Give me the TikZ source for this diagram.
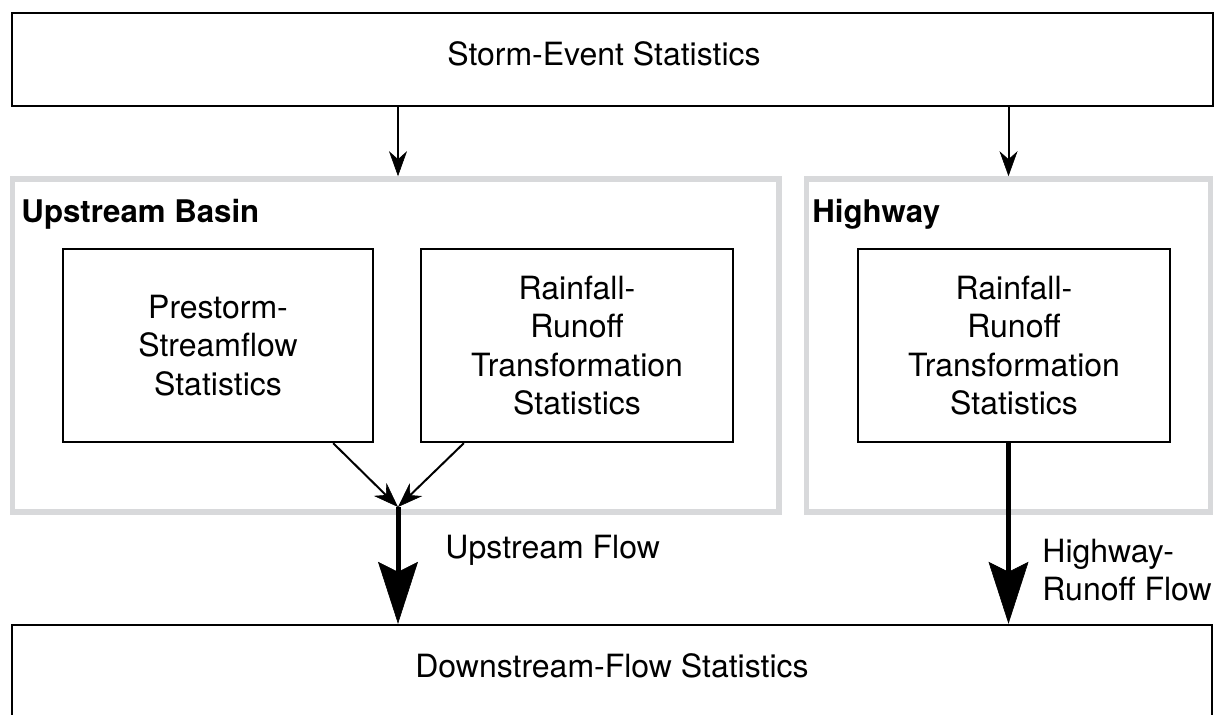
\documentclass[tikz,border=0pt]{standalone}
\usepackage{fontspec}
\setmainfont{TeX Gyre Heros}
\usetikzlibrary{arrows.meta,calc}
\definecolor{framegrey}{RGB}{216,217,219}
\begin{document}
\begin{tikzpicture}[x=0.5pt,y=-0.5pt,
  every node/.style={font=\fontsize{16}{19.1}\selectfont},
  box/.style={draw=black,line width=1.2pt,inner sep=0pt,align=center},
  group/.style={draw=framegrey,line width=2.8pt,inner sep=0pt},
  thinarrow/.style={line width=1pt,-{Stealth[length=12.5pt,width=9pt,inset=4pt,line width=0.3pt]}},
  thickarrow/.style={line width=2.5pt,-{Stealth[length=31pt,width=20pt,inset=5pt,line width=0.3pt]}},
  grouptitle/.style={font=\fontsize{15.6}{19}\selectfont\bfseries,anchor=base west,inner sep=0pt},
  flowlabel/.style={inner sep=0pt,align=left}
]
\useasboundingbox (0,0) rectangle (1215,715);
\clip (0,0) rectangle (1215,715);
% grey group frames
\node[group,minimum width=383.25pt,minimum height=166.5pt] (up) at (395.75,345.5) {};
\node[group,minimum width=202pt,minimum height=166.5pt] (hw) at (1008.5,345.5) {};
% boxes
\node[box,minimum width=600.5pt,minimum height=46.5pt] (top) at (612.5,59.5) {};
\node[anchor=base,inner sep=0pt] (toptext) at (604,66) {Storm-Event Statistics};
\node[box,minimum width=155pt,minimum height=96.5pt] (pre) at (218,345.5) {Prestorm-\\Streamflow\\Statistics};
\node[box,minimum width=156pt,minimum height=96.5pt] (rr1) at (577,345.5) {Rainfall-\\Runoff\\Transformation\\Statistics};
\node[box,minimum width=156pt,minimum height=96.5pt] (rr2) at (1014,345.5) {Rainfall-\\Runoff\\Transformation\\Statistics};
\node[box,minimum width=600pt,minimum height=57.5pt] (down) at (612,682.5) {};
\node[anchor=base,inner sep=0pt] (downtext) at (612,677) {Downstream-Flow Statistics};
% titles
\node[grouptitle] (uptitle) at (21,223) {Upstream Basin};
\node[grouptitle] (hwtitle) at (812,223) {Highway};
% connectors
\coordinate (j) at (398,507);
\draw[thinarrow] (top.south -| j) -- (up.north -| j);
\draw[thinarrow] (top.south -| hw.north) -- (hw.north);
\draw[thinarrow] ($(pre.south east)+(-41,0)$) -- (j);
\draw[thinarrow] ($(rr1.south west)+(44,0)$) -- (j);
\draw[thickarrow] (j) -- (j |- down.north);
\draw[thickarrow] (rr2.south -| hw.north) -- (hw.north |- down.north);
% flow labels
\node[flowlabel,anchor=base west] (uflow) at (445,559) {Upstream Flow};
\node[flowlabel,anchor=west] (hflow) at (1042,570) {Highway-\\Runoff Flow};
\end{tikzpicture}
\end{document}
